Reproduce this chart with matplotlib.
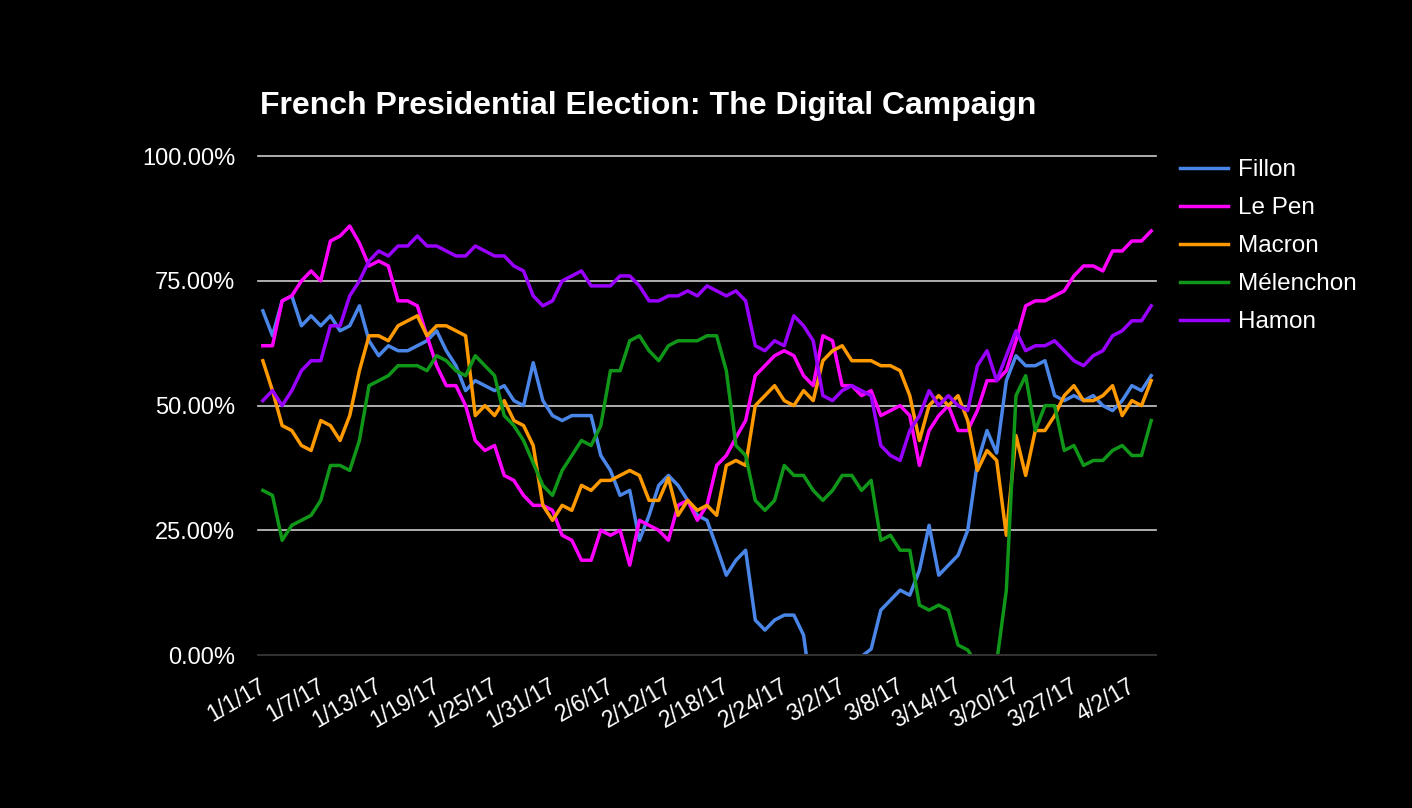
import numpy as np
import matplotlib
matplotlib.use("Agg")
import matplotlib.pyplot as plt
import matplotlib.transforms as mtransforms

plt.rcParams['font.family'] = ['Liberation Sans', 'DejaVu Sans']

title = "French Presidential Election: The Digital Campaign"

categories = [
    '1/1/17', '1/2/17', '1/3/17', '1/4/17', '1/5/17', '1/6/17', '1/7/17', '1/8/17', '1/9/17', '1/10/17',
    '1/11/17', '1/12/17', '1/13/17', '1/14/17', '1/15/17', '1/16/17', '1/17/17', '1/18/17', '1/19/17', '1/20/17',
    '1/21/17', '1/22/17', '1/23/17', '1/24/17', '1/25/17', '1/26/17', '1/27/17', '1/28/17', '1/29/17', '1/30/17',
    '1/31/17', '2/1/17', '2/2/17', '2/3/17', '2/4/17', '2/5/17', '2/6/17', '2/7/17', '2/8/17', '2/9/17',
    '2/10/17', '2/11/17', '2/12/17', '2/13/17', '2/14/17', '2/15/17', '2/16/17', '2/17/17', '2/18/17', '2/19/17',
    '2/20/17', '2/21/17', '2/22/17', '2/23/17', '2/24/17', '2/25/17', '2/26/17', '2/27/17', '2/28/17', '3/1/17',
    '3/2/17', '3/3/17', '3/4/17', '3/5/17', '3/6/17', '3/7/17', '3/8/17', '3/9/17', '3/10/17', '3/11/17',
    '3/12/17', '3/13/17', '3/14/17', '3/15/17', '3/16/17', '3/17/17', '3/18/17', '3/19/17', '3/20/17', '3/21/17',
    '3/22/17', '3/24/17', '3/25/17', '3/26/17', '3/27/17', '3/28/17', '3/29/17', '3/30/17', '3/31/17', '4/1/17',
    '4/2/17', '4/3/17', '4/4/17',
]

fillon = [
    69, 64, 71, 72, 66, 68, 66, 68, 65, 66,
    70, 63, 60, 62, 61, 61, 62, 63, 65, 61,
    58, 53, 55, 54, 53, 54, 51, 50, 58.6, 51,
    48, 47, 48, 48, 48, 40, 37, 32, 33, 23,
    28, 34, 36, 34, 31, 28, 27, 21.6, 16, 19,
    21, 7, 5, 7, 8, 8, 4, -10, -10, -10,
    -10, -10, -0.3, 1.2, 9, 11, 13, 12, 17, 26,
    16, 18, 20, 25, 38.5, 45, 40.5, 55, 60, 58,
    58, 59, 52, 51, 52, 51, 52, 50, 49, 51,
    54, 53, 56,
]

le_pen = [
    62, 62, 71, 72, 75, 77, 75, 83, 84, 86,
    82.6, 78, 79, 78, 71, 71, 70, 64, 58, 54,
    54, 50, 43, 41, 42, 36, 35, 32, 30, 30,
    29, 24, 23, 19, 19, 25, 24, 25, 18, 27,
    26, 25, 23, 30, 31, 27, 30, 38, 40, 43.6,
    47, 56, 58, 60, 61, 60, 56, 54, 64, 63,
    54, 54, 52, 53, 48, 49, 50, 48, 38, 45,
    48, 50, 45, 45, 49, 55, 55, 57, 63, 70,
    71, 71, 72, 73, 76, 78, 78, 77, 81, 81,
    83, 83, 85,
]

macron = [
    59, 53, 46, 45, 42, 41, 47, 46, 43, 48,
    57, 64, 64, 63, 66, 67, 68, 64, 66, 66,
    65, 64, 48, 50, 48, 51, 47, 46, 42, 30,
    27, 30, 29, 34, 33, 35, 35, 36, 37, 36,
    31, 31, 35.5, 28, 31, 29, 30, 28, 38, 39,
    38, 50, 52, 54, 51, 50, 53, 51, 59, 61,
    62, 59, 59, 59, 58, 58, 57, 52, 43, 50,
    52, 50, 52, 47, 37, 41, 39, 24, 44, 36,
    45, 45, 48, 52, 54, 51, 51, 52, 54, 48,
    51, 50, 55,
]

melenchon = [
    33, 32, 23, 26, 27, 28, 31, 38, 38, 37,
    43, 54, 55, 56, 58, 58, 58, 57, 60, 59,
    57, 56, 60, 58, 56, 48, 46, 43, 38.5, 34,
    32, 37, 40, 43, 42, 46, 57, 57, 63, 64,
    61, 59, 62, 63, 63, 63, 64, 64, 57, 42,
    40, 31, 29, 31, 38, 36, 36, 33, 31, 33,
    36, 36, 33, 35, 23, 24, 21, 21, 10, 9,
    10, 9, 2, 1, -2, -2, -1.5, 13, 52, 56,
    45, 50, 50, 41, 42, 38, 39, 39, 41, 42,
    40, 40, 47,
]

hamon = [
    51, 53, 50, 53, 57, 59, 59, 66, 66, 72,
    75, 79, 81, 80, 82, 82, 84, 82, 82, 81,
    80, 80, 82, 81, 80, 80, 78, 77, 72, 70,
    71, 75, 76, 77, 74, 74, 74, 76, 76, 74,
    71, 71, 72, 72, 73, 72, 74, 73, 72, 73,
    71, 62, 61, 63, 62, 68, 66, 63, 52, 51,
    53, 54, 53, 52, 42, 40, 39, 45, 48, 53,
    50, 52, 50, 49, 58, 61, 55, 60, 65, 61,
    62, 62, 63, 61, 59, 58, 60, 61, 64, 65,
    67, 67, 70,
]

series_names = ['Fillon', 'Le Pen', 'Macron', 'Mélenchon', 'Hamon']
series_values = [fillon, le_pen, macron, melenchon, hamon]
series_colors = ['#4a86e8', '#ff00ff', '#ff9900', '#109618', '#9900ff']

y_ticks = [0, 25, 50, 75, 100]
y_tick_labels = ['0.00%', '25.00%', '50.00%', '75.00%', '100.00%']

W, H = 1412, 808
fig = plt.figure(figsize=(W / 100, H / 100), dpi=100, facecolor='black')
ax = fig.add_axes([258 / W, 1 - 655 / H, 898 / W, (655 - 156.2) / H])
ax.set_facecolor('black')

x = np.arange(len(categories))
for name, vals, col in zip(series_names, series_values, series_colors):
    ax.plot(x, vals, color=col, lw=2.5, label=name, zorder=2)

ax.set_xlim(-0.5, len(categories) - 0.5)
ax.set_ylim(0, 100)

for yv in y_ticks[1:]:
    ax.axhline(yv, color='#cccccc', lw=1.2, zorder=0.5, clip_on=False)
ax.axhline(0, color='#333333', lw=1.4, zorder=3, clip_on=False)

for s in ax.spines.values():
    s.set_visible(False)

ax.set_yticks(y_ticks)
ax.set_yticklabels(y_tick_labels)
ax.tick_params(axis='y', length=0, pad=16.5, labelsize=17, labelcolor='white')

ax.set_xticks(x[::6])
ax.set_xticklabels(categories[::6])
ax.tick_params(axis='x', length=0, pad=14, labelsize=16.5, labelcolor='white')
shift = mtransforms.ScaledTranslation(-4 / 100, 0, fig.dpi_scale_trans)
for lbl in ax.get_xticklabels():
    lbl.set_rotation(30)
    lbl.set_ha('right')
    lbl.set_rotation_mode('anchor')
    lbl.set_transform(lbl.get_transform() + shift)

fig.text(260 / W, 1 - 114 / H, title, fontsize=23, fontweight='bold',
         color='white', ha='left', va='baseline')

leg = ax.legend(loc='upper left', bbox_to_anchor=(1180 / W, 1 - 159 / H),
                bbox_transform=fig.transFigure, frameon=False, fontsize=17.5,
                handlelength=1.97, handletextpad=0.41, labelspacing=0.66,
                borderpad=0, borderaxespad=0)
for t in leg.get_texts():
    t.set_color('white')

fig.savefig('out.png', dpi=100, facecolor='black')
